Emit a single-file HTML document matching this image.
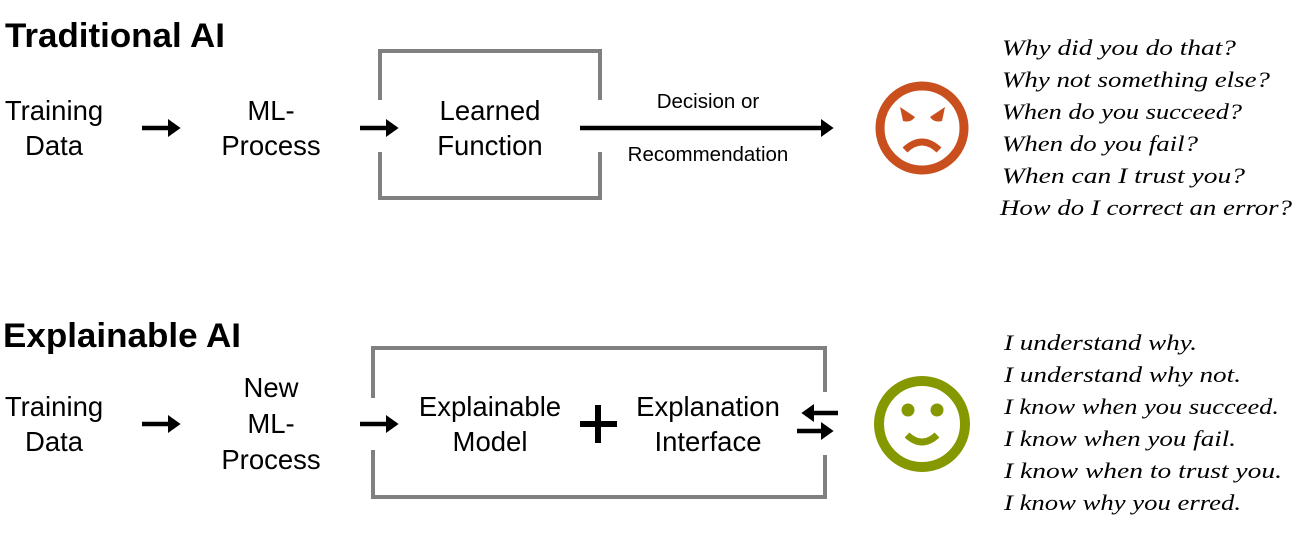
<!DOCTYPE html>
<html><head><style>body{margin:0;background:#fff;width:1300px;height:550px;overflow:hidden}</style></head>
<body>
<svg width="1300" height="550" xmlns="http://www.w3.org/2000/svg">
<defs>
<marker id="ah" markerWidth="4" markerHeight="4" refX="2" refY="2" orient="auto" markerUnits="strokeWidth">
<path d="M0,0 L2.8,2 L0,4 Z" fill="#000"/></marker>
</defs>
<g font-family="Liberation Sans, sans-serif" fill="#000">
<text x="5" y="47" font-size="34.5" font-weight="bold" textLength="220" lengthAdjust="spacingAndGlyphs">Traditional AI</text>
<text x="3" y="347" font-size="34.5" font-weight="bold" textLength="238" lengthAdjust="spacingAndGlyphs">Explainable AI</text>
<g font-size="27.5" text-anchor="middle">
<text x="54" y="120">Training</text><text x="54" y="155">Data</text>
<text x="271" y="120">ML-</text><text x="271" y="155">Process</text>
<text x="490" y="120">Learned</text><text x="490" y="155">Function</text>
<text x="54" y="416">Training</text><text x="54" y="451">Data</text>
<text x="271" y="397">New</text><text x="271" y="433">ML-</text><text x="271" y="469">Process</text>
<text x="490" y="416">Explainable</text><text x="490" y="451">Model</text>
<text x="708" y="416">Explanation</text><text x="708" y="451">Interface</text>
</g>
<g font-size="20.5" text-anchor="middle">
<text x="708" y="108">Decision or</text>
<text x="708" y="161">Recommendation</text>
</g>
</g>
<g stroke="#808080" stroke-width="4" fill="none">
<path d="M380,100 V51 H600 V100"/>
<path d="M380,152 V198 H600 V152"/>
<path d="M373,398 V348 H825 V392"/>
<path d="M373,450 V497 H825 V455"/>
</g>
<g stroke="#000" stroke-width="4.5" fill="none">
<line x1="142" y1="128" x2="177" y2="128" marker-end="url(#ah)"/>
<line x1="360" y1="128" x2="395" y2="128" marker-end="url(#ah)"/>
<line x1="580" y1="128" x2="830" y2="128" marker-end="url(#ah)"/>
<line x1="142" y1="424" x2="177" y2="424" marker-end="url(#ah)"/>
<line x1="360" y1="424" x2="395" y2="424" marker-end="url(#ah)"/>
<line x1="838" y1="413" x2="805" y2="413" marker-end="url(#ah)"/>
<line x1="797" y1="431" x2="830" y2="431" marker-end="url(#ah)"/>
<path d="M598,405 V443 M580,424 H617" stroke-width="6"/>
</g>
<g fill="#C94F1E">
<circle cx="922" cy="128" r="42" fill="none" stroke="#C94F1E" stroke-width="9"/>
<path d="M900,107 L915,117 Q911,123 903,121 Z"/>
<path d="M945,107 L930,117 Q934,123 942,121 Z"/>
<path d="M905,150 Q922,134 939,150" fill="none" stroke="#C94F1E" stroke-width="7"/>
</g>
<g fill="#869800">
<circle cx="922" cy="424" r="43" fill="none" stroke="#869800" stroke-width="10"/>
<circle cx="908" cy="410" r="6.5"/><circle cx="937" cy="410" r="6.5"/>
<path d="M907,435 Q922,449 937,435" fill="none" stroke="#869800" stroke-width="7"/>
</g>
<g font-family="Liberation Serif, serif" font-style="italic" font-size="22" fill="#000">
<text x="1002" y="55" textLength="234" lengthAdjust="spacingAndGlyphs">Why did you do that?</text>
<text x="1002" y="87" textLength="268" lengthAdjust="spacingAndGlyphs">Why not something else?</text>
<text x="1002" y="119" textLength="240" lengthAdjust="spacingAndGlyphs">When do you succeed?</text>
<text x="1002" y="151" textLength="196" lengthAdjust="spacingAndGlyphs">When do you fail?</text>
<text x="1002" y="183" textLength="243" lengthAdjust="spacingAndGlyphs">When can I trust you?</text>
<text x="1000" y="215" textLength="292" lengthAdjust="spacingAndGlyphs">How do I correct an error?</text>
<text x="1004" y="350" textLength="193" lengthAdjust="spacingAndGlyphs">I understand why.</text>
<text x="1004" y="382" textLength="237" lengthAdjust="spacingAndGlyphs">I understand why not.</text>
<text x="1004" y="414" textLength="275" lengthAdjust="spacingAndGlyphs">I know when you succeed.</text>
<text x="1004" y="446" textLength="232" lengthAdjust="spacingAndGlyphs">I know when you fail.</text>
<text x="1004" y="478" textLength="278" lengthAdjust="spacingAndGlyphs">I know when to trust you.</text>
<text x="1004" y="510" textLength="237" lengthAdjust="spacingAndGlyphs">I know why you erred.</text>
</g>
</svg>
</body></html>
